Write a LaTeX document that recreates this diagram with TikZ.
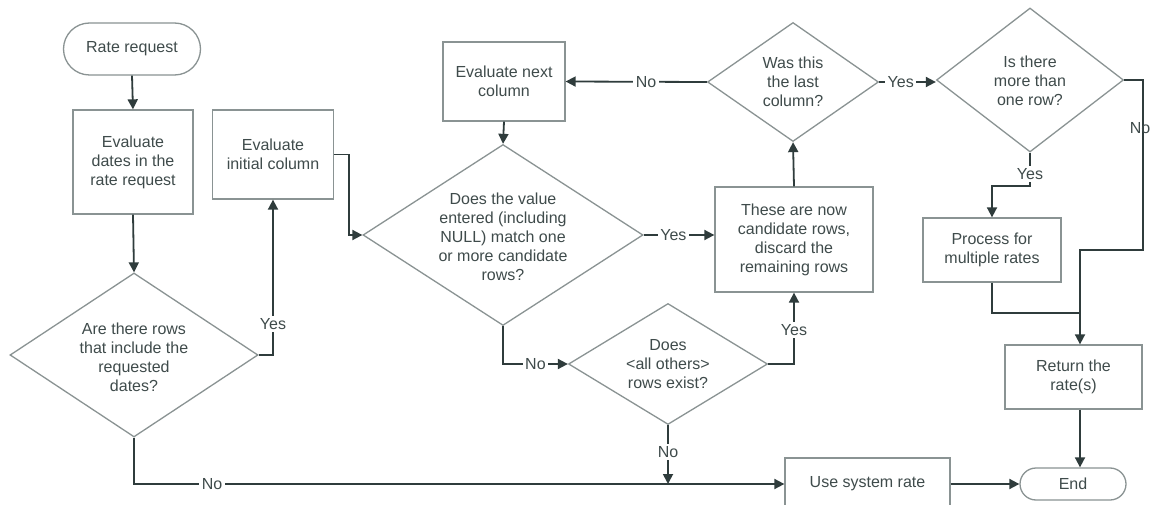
\documentclass[tikz,border=0pt]{standalone}
\usepackage{fontspec}
\setmainfont{Liberation Sans}
\usetikzlibrary{arrows.meta,shapes.geometric,shapes.misc,calc}
\definecolor{linec}{HTML}{2F3C3C}
\definecolor{boxc}{HTML}{8A9393}
\definecolor{txtc}{HTML}{3F4B4B}
\tikzset{
  every node/.style={font=\fontsize{16}{19}\selectfont, text=txtc},
  stepbox/.style={draw=boxc, line width=1.3pt, rectangle, align=center, inner sep=2pt},
  termbox/.style={draw=boxc, line width=1.3pt, rounded rectangle, align=center, inner sep=2pt},
  decbox/.style={draw=boxc, line width=1.3pt, diamond, inner sep=0pt},
  dtext/.style={align=center, inner sep=0pt},
  conn/.style={draw=linec, line width=1.8pt},
  arr/.style={conn, -{Triangle[length=10pt,width=10pt]}},
  lbl/.style={fill=white, inner sep=2.5pt}
}
\begin{document}
\begin{tikzpicture}[x=1pt,y=-1pt]
\clip (0,0) rectangle (1151,505);
\fill[white] (0,0) rectangle (1151,505);

% nodes
\node[termbox, minimum width=141pt, minimum height=52pt] (rr) at (132,49) {Rate request};
\node[stepbox, minimum width=120pt, minimum height=104pt] (ed) at (133,162) {Evaluate\\dates in the\\rate request};
\node[decbox, minimum width=248pt, minimum height=164pt] (d1) at (134,355) {};
\node[dtext] (d1t) at (134,357) {Are there rows\\that include the\\requested\\dates?};
\node[stepbox, minimum width=121pt, minimum height=89pt] (ei) at (273,154.5) {Evaluate\\initial column};
\node[stepbox, minimum width=122pt, minimum height=79pt] (en) at (504,81.5) {Evaluate next\\column};
\node[decbox, minimum width=280pt, minimum height=181pt] (d2) at (503,235) {};
\node[dtext] (d2t) at (503,237) {Does the value\\entered (including\\NULL) match one\\or more candidate\\rows?};
\node[decbox, minimum width=171pt, minimum height=119pt] (d3) at (793,82) {};
\node[dtext] (d3t) at (793,82) {Was this\\the last\\column?};
\node[stepbox, minimum width=158pt, minimum height=105pt] (cr) at (794,239.5) {These are now\\candidate rows,\\discard the\\remaining rows};
\node[decbox, minimum width=199pt, minimum height=121pt] (d4) at (668,364) {};
\node[dtext] (d4t) at (668,364) {Does\\<all others>\\rows exist?};
\node[stepbox, minimum width=165pt, minimum height=52pt] (us) at (867.5,484) {Use system rate};
\node[termbox, minimum width=110pt, minimum height=32pt] (endn) at (1073,484) {End};
\node[decbox, minimum width=187pt, minimum height=144pt] (d5) at (1030,80) {};
\node[dtext] (d5t) at (1030,81) {Is there\\more than\\one row?};
\node[stepbox, minimum width=138pt, minimum height=64pt] (pm) at (992,250) {Process for\\multiple rates};
\node[stepbox, minimum width=137pt, minimum height=64pt] (rt) at (1073.5,377) {Return the\\rate(s)};

\coordinate (c1) at (1143,250);
\coordinate (J) at (1080,313);

% connectors
\draw[arr] (rr.south) -- (ed.north);
\draw[arr] (ed.south) -- (d1.north);
\draw[arr] (d1.east) -| node[lbl, pos=0.6] {Yes} (ei.south);
\draw[arr] (ei.east) -- ++(15,0) |- (d2.west);
\draw[arr] (en.south) -- (d2.north);
\draw[arr] (d3.west) -- node[lbl, pos=0.43] {No} (en.east);
\draw[arr] (d2.east) -- node[lbl, pos=0.42] {Yes} (d2.east -| cr.west);
\draw[arr] (cr.north) -- (d3.south);
\draw[arr] (d2.south) |- node[lbl, pos=0.75] {No} (d4.west);
\draw[arr] (d4.east) -| node[lbl, pos=0.74] {Yes} (cr.south);
\draw[arr] (d4.south) -- node[lbl, pos=0.46] {No} (d4.south |- us.west);
\draw[arr] (d1.south) |- node[lbl, pos=0.56] {No} (us.west);
\draw[arr] (us.east) -- (endn.west);
\draw[arr] (d3.east) -- node[lbl, pos=0.38] {Yes} (d3.east -| d5.west);
\draw[arr] (d5.south) -- node[lbl, pos=0.64] {Yes} ++(0,33) -| (pm.north);
\draw[arr] (d5.east) -| node[pos=0.64, xshift=-3pt, inner sep=1pt] {No} (c1) -- (c1 -| J) -- (J |- rt.north);
\draw[conn] (pm.south) |- (J);
\draw[arr] (rt.south -| J) -- (endn.north -| J);
\end{tikzpicture}
\end{document}
